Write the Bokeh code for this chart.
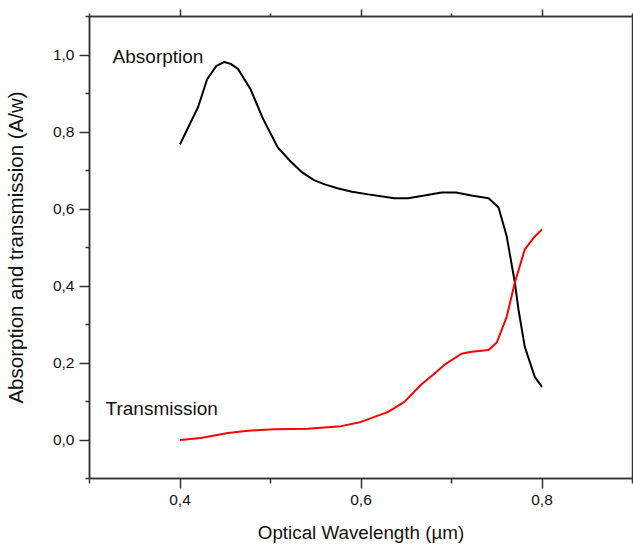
from bokeh.plotting import figure
from bokeh.models import LinearAxis, FixedTicker, Label, Range1d, CustomJSTickFormatter
from bokeh.embed import file_html
from bokeh.resources import INLINE

# ---- data ----
abs_x = [0.400, 0.420, 0.430, 0.440, 0.449, 0.456, 0.464, 0.478, 0.492, 0.508, 0.522,
         0.535, 0.548, 0.560, 0.574, 0.590, 0.608, 0.622, 0.637, 0.652, 0.670, 0.689,
         0.705, 0.722, 0.741, 0.752, 0.761, 0.770, 0.774, 0.781, 0.792, 0.800]
abs_y = [0.768, 0.865, 0.937, 0.971, 0.982, 0.977, 0.964, 0.911, 0.833, 0.760, 0.724,
         0.695, 0.675, 0.664, 0.654, 0.645, 0.638, 0.633, 0.628, 0.628, 0.635, 0.643,
         0.643, 0.635, 0.628, 0.604, 0.529, 0.409, 0.339, 0.242, 0.164, 0.138]

tr_x = [0.400, 0.423, 0.453, 0.475, 0.489, 0.504, 0.541, 0.578, 0.600, 0.630, 0.648,
        0.666, 0.680, 0.692, 0.711, 0.722, 0.741, 0.750, 0.761, 0.770, 0.781, 0.791, 0.800]
tr_y = [0.000, 0.005, 0.018, 0.024, 0.026, 0.028, 0.029, 0.036, 0.047, 0.073, 0.099,
        0.143, 0.170, 0.195, 0.224, 0.229, 0.234, 0.253, 0.320, 0.409, 0.495, 0.526, 0.547]

x_ticks = [0.4, 0.6, 0.8]
x_tick_labels = ["0,4", "0,6", "0,8"]
x_minor = [0.3, 0.5, 0.7, 0.9]
y_ticks = [0.0, 0.2, 0.4, 0.6, 0.8, 1.0]
y_tick_labels = ["0,0", "0,2", "0,4", "0,6", "0,8", "1,0"]
y_minor = [-0.1, 0.1, 0.3, 0.5, 0.7, 0.9, 1.1]

FONT = "Liberation Sans"
AX = "#333333"

p = figure(width=633, height=548, output_backend="svg", toolbar_location=None,
           x_range=Range1d(0.3, 0.9), y_range=Range1d(-0.1, 1.1),
           min_border_left=89, min_border_right=1, min_border_top=16, min_border_bottom=70)
p.grid.visible = False
p.background_fill_color = "white"
p.border_fill_color = "white"
p.outline_line_color = AX
p.outline_line_width = 1.5

p.line(abs_x, abs_y, line_color="black", line_width=2)
p.line(tr_x, tr_y, line_color="red", line_width=2)

xt = FixedTicker(ticks=x_ticks, minor_ticks=x_minor)
yt = FixedTicker(ticks=y_ticks, minor_ticks=y_minor)

xa = p.xaxis[0]
xa.ticker = xt
xa.major_label_overrides = dict(zip(x_ticks, x_tick_labels))
xa.axis_label = "Optical Wavelength (µm)"
xa.axis_label_text_font = FONT
xa.axis_label_text_font_size = "18.8px"
xa.axis_label_text_font_style = "normal"
xa.axis_label_text_color = "#111111"
xa.axis_label_standoff = 14
xa.major_label_text_font = FONT
xa.major_label_text_font_size = "15.5px"
xa.major_label_text_color = "#111111"
xa.major_label_standoff = 6
xa.major_tick_out = 10
xa.major_tick_in = 0
xa.minor_tick_out = 5
xa.minor_tick_in = 0
xa.axis_line_color = AX
xa.axis_line_width = 1.5
xa.major_tick_line_color = AX
xa.major_tick_line_width = 1.5
xa.minor_tick_line_color = AX
xa.minor_tick_line_width = 1.5

ya = p.yaxis[0]
ya.ticker = yt
ya.major_label_overrides = dict(zip(y_ticks, y_tick_labels))
ya.axis_label = "Absorption and transmission (A/w)"
ya.axis_label_text_font = FONT
ya.axis_label_text_font_size = "20.5px"
ya.axis_label_text_font_style = "normal"
ya.axis_label_text_color = "#111111"
ya.axis_label_standoff = 23
ya.major_label_text_font = FONT
ya.major_label_text_font_size = "15.5px"
ya.major_label_text_color = "#111111"
ya.major_label_standoff = 5
ya.major_tick_out = 10
ya.major_tick_in = 0
ya.minor_tick_out = 4
ya.minor_tick_in = 0
ya.axis_line_color = AX
ya.axis_line_width = 1.5
ya.major_tick_line_color = AX
ya.major_tick_line_width = 1.5
ya.minor_tick_line_color = AX
ya.minor_tick_line_width = 1.5

top = LinearAxis(ticker=xt, formatter=CustomJSTickFormatter(code="return ''"),
                 major_label_text_font_size="1px", major_label_standoff=0,
                 major_tick_out=7, major_tick_in=0, minor_tick_out=3, minor_tick_in=0,
                 axis_line_color=AX, axis_line_width=1.5,
                 major_tick_line_color=AX, major_tick_line_width=1.5,
                 minor_tick_line_color=AX, minor_tick_line_width=1.5)
p.add_layout(top, "above")

p.add_layout(Label(x=0.3255, y=0.995, text="Absorption", text_font=FONT,
                   text_font_size="19px", text_color="#111111", text_baseline="middle"))
p.add_layout(Label(x=0.3177, y=0.081, text="Transmission", text_font=FONT,
                   text_font_size="19px", text_color="#111111", text_baseline="middle"))

open("out.html", "w").write(file_html(p, INLINE))
